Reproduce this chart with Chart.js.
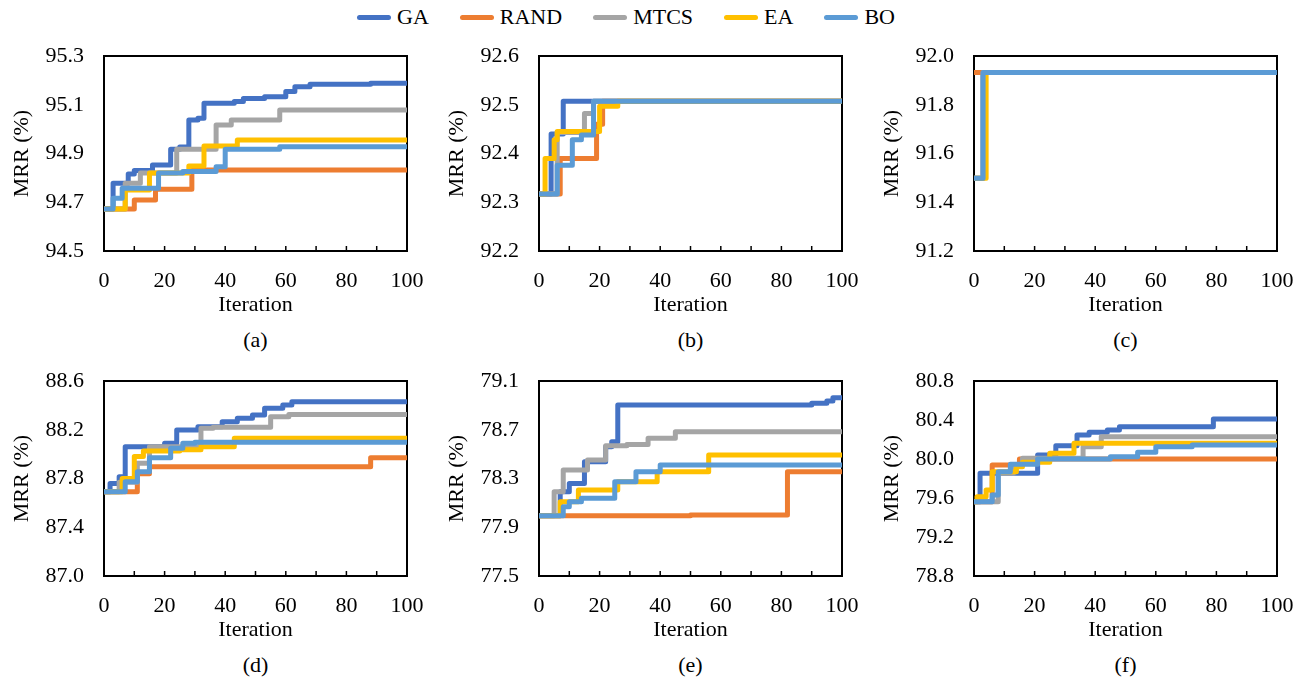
<!DOCTYPE html>
<html>
<head>
<meta charset="utf-8">
<script src="https://cdn.jsdelivr.net/npm/chart.js@4.4.1/dist/chart.umd.min.js"></script>
<style>
  body { margin: 0; background: #fff; width: 1309px; height: 684px; position: relative; overflow: hidden;
         font-family: "Liberation Serif", serif; color: #000; }
  canvas { position: absolute; }
  .cap { position: absolute; width: 100px; margin-left: -50px; text-align: center; font-size: 22px; line-height: 22px; }
  #legend { position: absolute; left: 357px; top: 5px; display: flex; align-items: center; font-size: 22px; line-height: 24px; }
  #legend .item { display: flex; align-items: center; margin-right: 31px; }
  #legend .sw { width: 34px; height: 5px; border-radius: 3px; margin-right: 6px; }
</style>
</head>
<body>
<div id="legend"></div>
<script>
const seriesNames = ['GA', 'RAND', 'MTCS', 'EA', 'BO'];
const seriesColors = ['#4472C4', '#ED7D31', '#A5A5A5', '#FFC000', '#5B9BD5'];
const panelLabels = ['(a)', '(b)', '(c)', '(d)', '(e)', '(f)'];
const yMin = [94.5, 92.2, 91.2, 87.0, 77.5, 78.8];
const yMax = [95.3, 92.6, 92.0, 88.6, 79.1, 80.8];
const yStep = [0.2, 0.1, 0.2, 0.4, 0.4, 0.4];
const xMax = 100;
const xLabelStep = 20;
const xTickStep = 10;

// [iteration, MRR] at every change of the best value
const a_GA = [[0, 94.672], [3, 94.778], [8, 94.816], [10, 94.83], [16, 94.853], [22, 94.917], [25, 94.927], [28, 95.037], [31, 95.045], [33, 95.106], [43, 95.113], [46, 95.126], [53, 95.133], [60, 95.154], [63, 95.174], [68, 95.184], [88, 95.188], [100, 95.188]];
const a_RAND = [[0, 94.672], [10, 94.709], [17, 94.753], [29, 94.832], [100, 94.832]];
const a_MTCS = [[0, 94.672], [7, 94.778], [12, 94.82], [24, 94.917], [37, 95.017], [42, 95.037], [58, 95.078], [100, 95.078]];
const a_EA = [[0, 94.672], [7, 94.75], [15, 94.82], [28, 94.849], [33, 94.931], [44, 94.955], [100, 94.955]];
const a_BO = [[0, 94.672], [3, 94.716], [6, 94.757], [18, 94.82], [26, 94.826], [37, 94.846], [40, 94.917], [58, 94.928], [100, 94.928]];

const b_GA = [[0, 92.317], [4, 92.44], [8, 92.507], [100, 92.507]];
const b_RAND = [[0, 92.317], [7, 92.39], [19, 92.46], [21, 92.507], [100, 92.507]];
const b_MTCS = [[0, 92.317], [6, 92.443], [15, 92.482], [18, 92.507], [100, 92.507]];
const b_EA = [[0, 92.317], [2, 92.39], [5, 92.428], [6, 92.445], [20, 92.497], [26, 92.507], [100, 92.507]];
const b_BO = [[0, 92.317], [6, 92.376], [11, 92.428], [14, 92.438], [18, 92.507], [100, 92.507]];

const c_GA = [[0, 91.498], [3, 91.932], [100, 91.932]];
const c_RAND = [[0, 91.932], [100, 91.932]];
const c_MTCS = [[0, 91.498], [3, 91.932], [100, 91.932]];
const c_EA = [[0, 91.498], [4, 91.932], [100, 91.932]];
const c_BO = [[0, 91.498], [3, 91.932], [100, 91.932]];

const d_GA = [[0, 87.692], [2, 87.76], [5, 87.815], [7, 88.061], [20, 88.089], [24, 88.198], [31, 88.225], [39, 88.266], [44, 88.294], [49, 88.321], [53, 88.376], [59, 88.403], [62, 88.43], [100, 88.43]];
const d_RAND = [[0, 87.692], [11, 87.84], [15, 87.897], [88, 87.971], [100, 87.971]];
const d_MTCS = [[0, 87.692], [5, 87.77], [11, 87.925], [15, 88.06], [32, 88.212], [36, 88.22], [55, 88.307], [61, 88.326], [100, 88.326]];
const d_EA = [[0, 87.692], [6, 87.80], [10, 87.98], [13, 88.026], [25, 88.035], [32, 88.06], [43, 88.13], [100, 88.13]];
const d_BO = [[0, 87.692], [7, 87.774], [11, 87.856], [15, 87.971], [22, 88.048], [26, 88.089], [30, 88.097], [100, 88.097]];

const e_GA = [[0, 77.995], [7, 78.192], [10, 78.26], [15, 78.438], [22, 78.561], [24, 78.602], [26, 78.903], [90, 78.917], [95, 78.936], [97, 78.963], [100, 78.963]];
const e_RAND = [[0, 77.995], [50, 78.0], [82, 78.356], [100, 78.356]];
const e_MTCS = [[0, 77.995], [5, 78.192], [8, 78.37], [16, 78.452], [22, 78.569], [29, 78.58], [36, 78.63], [45, 78.684], [100, 78.684]];
const e_EA = [[0, 77.995], [7, 78.11], [13, 78.206], [26, 78.274], [39, 78.356], [56, 78.493], [100, 78.493]];
const e_BO = [[0, 77.995], [8, 78.069], [10, 78.11], [14, 78.137], [25, 78.274], [32, 78.356], [40, 78.411], [100, 78.411]];

const f_GA = [[0, 79.562], [2, 79.853], [21, 80.041], [27, 80.137], [34, 80.246], [38, 80.274], [44, 80.297], [48, 80.332], [79, 80.41], [100, 80.41]];
const f_RAND = [[0, 79.562], [6, 79.938], [15, 80.0], [100, 80.0]];
const f_MTCS = [[0, 79.562], [8, 79.853], [13, 79.938], [16, 80.007], [36, 80.126], [42, 80.229], [100, 80.229]];
const f_EA = [[0, 79.562], [1, 79.614], [4, 79.682], [6, 79.87], [14, 79.921], [16, 79.966], [25, 80.058], [33, 80.161], [100, 80.161]];
const f_BO = [[0, 79.562], [6, 79.631], [8, 79.87], [12, 79.945], [21, 80.0], [45, 80.024], [54, 80.068], [60, 80.126], [72, 80.144], [100, 80.144]];

const panelSeries = [
    [a_GA, a_RAND, a_MTCS, a_EA, a_BO],
    [b_GA, b_RAND, b_MTCS, b_EA, b_BO],
    [c_GA, c_RAND, c_MTCS, c_EA, c_BO],
    [d_GA, d_RAND, d_MTCS, d_EA, d_BO],
    [e_GA, e_RAND, e_MTCS, e_EA, e_BO],
    [f_GA, f_RAND, f_MTCS, f_EA, f_BO],
];

// layout: plot areas
const plotLefts = [104, 539, 974];
const plotTops = [56, 381];
const plotW = 303, plotH = 195;
const yAxisW = 104, xAxisH = 67, padTop = 16, padRight = 22;
const serif = '"Liberation Serif", "Times New Roman", serif';

Chart.defaults.font.family = serif;
Chart.defaults.font.size = 22;
Chart.defaults.color = '#000';

// legend
const legend = document.getElementById('legend');
seriesNames.forEach((name, i) => {
    legend.innerHTML += `<div class="item"><div class="sw" style="background:${seriesColors[i]}"></div><span>${name}</span></div>`;
});

const framePlugin = {
    id: 'frame',
    beforeDatasetsDraw(chart) {
        const { ctx, chartArea: a } = chart;
        const x = chart.scales.x;
        ctx.save();
        ctx.strokeStyle = '#000';
        ctx.lineWidth = 2;
        ctx.strokeRect(a.left, a.top, a.right - a.left, a.bottom - a.top);
        ctx.lineWidth = 1.5;
        for (let v = 0; v <= xMax; v += xTickStep) {
            const px = x.getPixelForValue(v);
            ctx.beginPath();
            ctx.moveTo(px, a.bottom);
            ctx.lineTo(px, a.bottom - 5);
            ctx.stroke();
        }
        ctx.restore();
    }
};

function makePanel(p) {
    const col = p % 3, row = Math.floor(p / 3);
    const left = plotLefts[col] - yAxisW;
    const top = plotTops[row] - padTop;
    const canvas = document.createElement('canvas');
    canvas.width = yAxisW + plotW + padRight;
    canvas.height = padTop + plotH + xAxisH;
    canvas.style.left = left + 'px';
    canvas.style.top = top + 'px';
    document.body.appendChild(canvas);

    const cap = document.createElement('div');
    cap.className = 'cap';
    cap.textContent = panelLabels[p];
    cap.style.left = (plotLefts[col] + plotW / 2) + 'px';
    cap.style.top = (plotTops[row] + plotH + 78) + 'px';
    document.body.appendChild(cap);

    new Chart(canvas.getContext('2d'), {
        type: 'line',
        data: {
            datasets: panelSeries[p].map((pts, i) => ({
                label: seriesNames[i],
                data: pts.map(([x, y]) => ({ x, y })),
                borderColor: seriesColors[i],
                backgroundColor: seriesColors[i],
                borderWidth: 5,
                borderCapStyle: 'round',
                borderJoinStyle: 'round',
                stepped: 'before',
                pointRadius: 0,
                order: seriesNames.length - i,
            })),
        },
        options: {
            responsive: false,
            animation: false,
            layout: { padding: { top: padTop, right: padRight, left: 0, bottom: 0 } },
            plugins: { legend: { display: false }, tooltip: { enabled: false } },
            scales: {
                x: {
                    type: 'linear',
                    min: 0,
                    max: xMax,
                    grid: { display: false },
                    border: { display: false },
                    ticks: { stepSize: xLabelStep, padding: 9, maxRotation: 0, font: { family: serif } },
                    title: { display: true, text: 'Iteration', padding: { top: 0, bottom: 0 }, font: { family: serif } },
                    afterFit(scale) { scale.height = xAxisH; scale.paddingLeft = 0; scale.paddingRight = 0; },
                },
                y: {
                    min: yMin[p],
                    max: yMax[p],
                    grid: { display: false },
                    border: { display: false },
                    ticks: { stepSize: yStep[p], padding: 12, callback: v => v.toFixed(1), font: { family: serif } },
                    title: { display: true, text: 'MRR (%)', padding: { top: 9, bottom: 0 }, font: { family: serif } },
                    afterFit(scale) { scale.width = yAxisW; scale.paddingTop = 0; scale.paddingBottom = 0; },
                },
            },
        },
        plugins: [framePlugin],
    });
}

function drawAll() {
    for (let p = 0; p < 6; p++) makePanel(p);
}

let drawn = false;
function once() { if (!drawn) { drawn = true; drawAll(); } }
if (document.fonts && document.fonts.load) {
    document.fonts.load('22px "Liberation Serif"').then(once, once);
    setTimeout(once, 1500);
} else {
    once();
}
</script>
</body>
</html>
